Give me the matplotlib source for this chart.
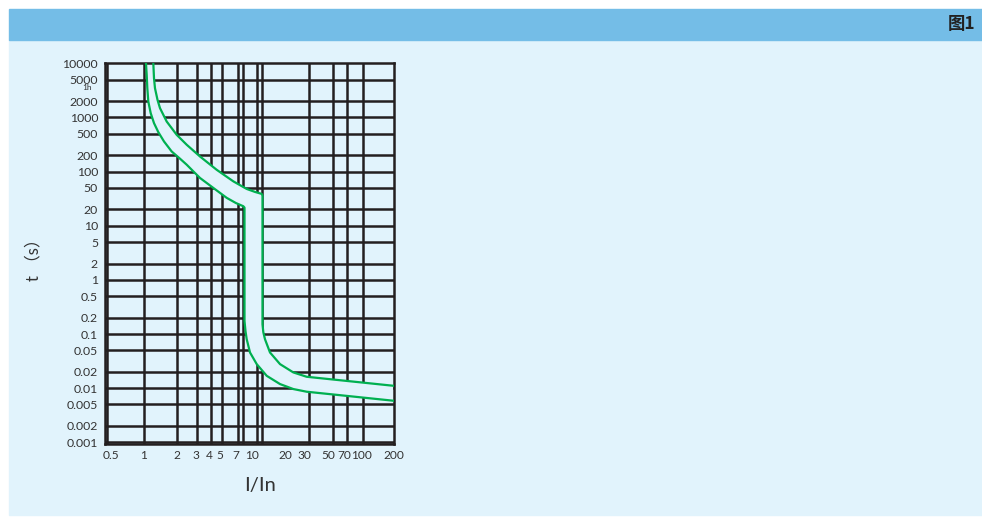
#!/usr/bin/env python3
# time-current curve (I/In vs t) on a log-log grid, with header bar
import matplotlib.pyplot as plt
from matplotlib.patches import Rectangle

# tick labels
x_ticks = [0.5, 1, 2, 3, 4, 5, 7, 10, 20, 30, 50, 70, 100, 200]
x_labels = ["0.5", "1", "2", "3", "4", "5", "7", "10", "20", "30", "50", "70", "100", "200"]
y_ticks = [10000, 5000, 3600, 2000, 1000, 500, 200, 100, 50, 20, 10, 5, 2, 1,
           0.5, 0.2, 0.1, 0.05, 0.02, 0.01, 0.005, 0.002, 0.001]
y_labels = ["10000", "5000", "1h", "2000", "1000", "500", "200", "100", "50", "20", "10",
            "5", "2", "1", "0.5", "0.2", "0.1", "0.05", "0.02", "0.01", "0.005", "0.002", "0.001"]

# grid lines as drawn in the picture (not quite at the nominal values)
x_grid = [0.462, 1, 2, 3.1, 4.15, 5.2, 7.3, 8.2, 10.9, 12.2, 33, 55, 74, 104]
y_grid = [5000, 2000, 1000, 500, 200, 100, 50, 20, 10, 5, 2, 1,
          0.5, 0.2, 0.1, 0.05, 0.02, 0.01, 0.005, 0.002, 0.001]

# lower boundary of the tripping band
low_x = [1.048, 1.064, 1.078, 1.101, 1.158, 1.242, 1.36, 1.535, 1.806, 2.154, 2.482,
         2.854, 3.289, 4.36, 5.79, 7.05, 8.23, 8.44, 8.44, 8.62, 8.84, 9.48, 10.93,
         13.5, 17.9, 23.7, 31.5, 197]
low_t = [10000, 6090, 3465, 1963, 1200, 785, 536, 360, 235, 173, 134,
         101, 76.2, 49.9, 32.7, 26.2, 22.9, 21.6, 0.174, 0.1126, 0.0802, 0.0456, 0.0278,
         0.0169, 0.0119, 0.00963, 0.00859, 0.00586]

# upper boundary of the tripping band
up_x = [1.224, 1.242, 1.268, 1.338, 1.41, 1.625, 2.008, 2.482, 3.289, 4.68, 6.66,
        8.84, 10.54, 12.15, 12.35, 12.35, 12.57, 13.02, 14.48, 17.9, 23.7, 31.5, 197]
up_t = [10000, 5293, 3465, 2110, 1484, 840, 478, 313, 190, 108, 66,
        47.8, 42.1, 38.7, 36, 0.1516, 0.108, 0.0802, 0.0456, 0.0278, 0.01954, 0.01622, 0.01107]

bg = "#e1f3fc"
head = "#74bde7"
ink = "#231f20"
green = "#00b050"
txt = "#333333"

fig = plt.figure(figsize=(9.82, 5.17), dpi=100)
fig.patches.append(Rectangle((9 / 982, 2 / 517), 973 / 982, 475 / 517,
                             transform=fig.transFigure, color=bg, zorder=-2))
fig.patches.append(Rectangle((9 / 982, 477 / 517), 973 / 982, 31 / 517,
                             transform=fig.transFigure, color=head, zorder=-2))
fig.text(0.993, 0.9536, "图1", ha="right", va="center", fontsize=12.5,
         fontweight="bold", color="#222222", family=["Noto Sans CJK SC", "DejaVu Sans"])

ax = fig.add_axes([105 / 982, 73 / 517, 289 / 982, 380.7 / 517])
ax.set_facecolor("none")
ax.set_xscale("log")
ax.set_yscale("log")
ax.set_xlim(0.44, 200)
ax.set_ylim(0.00093, 10000)
ax.xaxis.remove_overlapping_locs = False
ax.yaxis.remove_overlapping_locs = False

ax.set_xticks(x_ticks, x_labels)
ax.set_yticks(y_ticks, y_labels)
ax.set_xticks(x_grid, minor=True)
ax.set_yticks(y_grid, minor=True)
ax.tick_params(which="both", length=0)
ax.tick_params(axis="x", which="major", pad=4, labelsize=8.6, labelcolor=txt)
ax.tick_params(axis="y", which="major", pad=5, labelsize=8.8, labelcolor=txt)
ax.tick_params(which="minor", labelbottom=False, labelleft=False)
for lab in ax.get_xticklabels() + ax.get_yticklabels():
    lab.set_family("Lato")
    if lab.get_text() == "1h":
        lab.set_fontsize(6)
        lab.set_x(-0.022)
ax.grid(which="minor", color=ink, linewidth=1.8, zorder=1)
ax.grid(which="major", visible=False)
for s in ax.spines.values():
    s.set_color(ink)
    s.set_linewidth(1.8)

# band between the two curves covers the grid
ax.fill(low_x + up_x[::-1], low_t + up_t[::-1], color=bg, zorder=2, lw=0)
ax.plot(low_x, low_t, color=green, lw=1.6, zorder=3, solid_joinstyle="round")
ax.plot(up_x, up_t, color=green, lw=1.6, zorder=3, solid_joinstyle="round")

fig.text(260 / 982, (517 - 485) / 517, "I/In", ha="center", va="center",
         fontsize=14.5, color=txt, family="Lato")
fig.text(33 / 982, (517 - 256) / 517, "t （s）", ha="center", va="center", rotation=90,
         fontsize=12, color=txt, family=["Lato", "Noto Sans CJK SC"])

fig.savefig("out.png", dpi=100)
